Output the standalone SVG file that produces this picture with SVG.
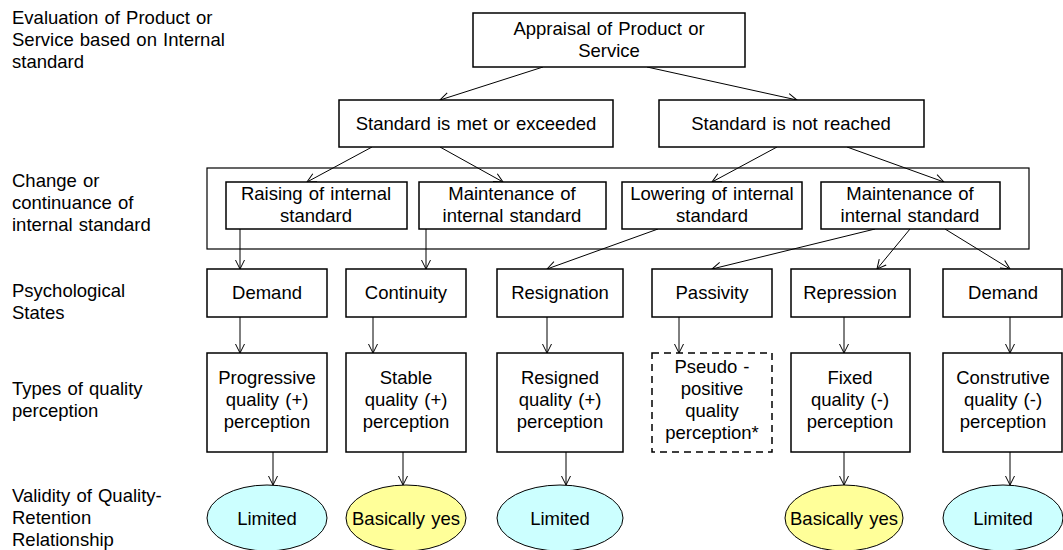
<svg xmlns="http://www.w3.org/2000/svg" width="1063" height="550" viewBox="0 0 1063 550">
  <style>
    text { font-family: "Liberation Sans", Arial, sans-serif; font-size: 18.5px; word-spacing: 1px; fill: #000; }
    .c { text-anchor: middle; }
    .box { fill: #fff; stroke: #000; stroke-width: 1.5; }
    .dash { fill: #fff; stroke: #000; stroke-width: 1.5; stroke-dasharray: 7 5; }
    .frame { fill: none; stroke: #000; stroke-width: 1.2; }
    .cyan { fill: #ccffff; stroke: #000; stroke-width: 1; }
    .yellow { fill: #ffff99; stroke: #000; stroke-width: 1; }
    .link { stroke: #000; stroke-width: 1; fill: none; marker-end: url(#arrow); }
  </style>
  <defs>
    <marker id="arrow" markerUnits="userSpaceOnUse" markerWidth="12" markerHeight="12" viewBox="0 0 12 12" refX="11" refY="6" orient="auto">
      <path d="M2,1.5 L11,6 L2,10.5" fill="none" stroke="#000" stroke-width="1"/>
    </marker>
  </defs>
  <rect width="1063" height="550" fill="#fff"/>

  <!-- row labels -->
  <g id="row-labels">
    <text x="12" y="24">Evaluation of Product or</text>
    <text x="12" y="46">Service based on Internal</text>
    <text x="12" y="68">standard</text>
    <text x="12" y="187">Change or</text>
    <text x="12" y="209">continuance of</text>
    <text x="12" y="231">internal standard</text>
    <text x="12" y="297">Psychological</text>
    <text x="12" y="319">States</text>
    <text x="12" y="395">Types of quality</text>
    <text x="12" y="417">perception</text>
    <text x="12" y="502">Validity of Quality-</text>
    <text x="12" y="524">Retention</text>
    <text x="12" y="546">Relationship</text>
  </g>

  <!-- frame around the standard-change level -->
  <rect id="standard-frame" class="frame" x="207" y="168" width="822" height="81"/>

  <!-- connectors -->
  <g id="connectors">
    <line class="link" x1="543" y1="67" x2="440" y2="100"/>
    <line class="link" x1="647" y1="67" x2="797" y2="100"/>
    <line class="link" x1="372" y1="147" x2="307" y2="182"/>
    <line class="link" x1="440" y1="147" x2="503" y2="182"/>
    <line class="link" x1="777" y1="147" x2="712" y2="182"/>
    <line class="link" x1="847" y1="147" x2="944" y2="182"/>
    <line class="link" x1="240" y1="229" x2="240" y2="269"/>
    <line class="link" x1="426" y1="229" x2="426" y2="269"/>
    <line class="link" x1="658" y1="229" x2="547" y2="269"/>
    <line class="link" x1="875" y1="229" x2="712" y2="269"/>
    <line class="link" x1="910" y1="229" x2="877" y2="269"/>
    <line class="link" x1="945" y1="229" x2="1010" y2="269"/>
    <line class="link" x1="240" y1="317" x2="240" y2="353"/>
    <line class="link" x1="373" y1="317" x2="373" y2="353"/>
    <line class="link" x1="547" y1="317" x2="547" y2="353"/>
    <line class="link" x1="679" y1="317" x2="679" y2="353"/>
    <line class="link" x1="844" y1="317" x2="844" y2="353"/>
    <line class="link" x1="1010" y1="317" x2="1010" y2="353"/>
    <line class="link" x1="273" y1="452" x2="273" y2="485"/>
    <line class="link" x1="403" y1="452" x2="403" y2="485"/>
    <line class="link" x1="566" y1="452" x2="566" y2="485"/>
    <line class="link" x1="844" y1="452" x2="844" y2="485"/>
    <line class="link" x1="1010" y1="452" x2="1010" y2="485"/>
  </g>

  <!-- level 1 -->
  <g id="appraisal">
    <rect class="box" x="473" y="13" width="272" height="54"/>
    <text class="c" x="609" y="35">Appraisal of Product or</text>
    <text class="c" x="609" y="57">Service</text>
  </g>

  <!-- level 2 -->
  <g id="standard-met">
    <rect class="box" x="339" y="100" width="274" height="47"/>
    <text class="c" x="476" y="130">Standard is met or exceeded</text>
  </g>
  <g id="standard-not-reached">
    <rect class="box" x="659" y="100" width="265" height="47"/>
    <text class="c" x="791" y="130">Standard is not reached</text>
  </g>

  <!-- level 3 -->
  <g id="raising">
    <rect class="box" x="226" y="182" width="181" height="47"/>
    <text class="c" x="316" y="200">Raising of internal</text>
    <text class="c" x="316" y="222">standard</text>
  </g>
  <g id="maintenance-left">
    <rect class="box" x="419" y="182" width="187" height="47"/>
    <text class="c" x="512" y="200">Maintenance of</text>
    <text class="c" x="512" y="222">internal standard</text>
  </g>
  <g id="lowering">
    <rect class="box" x="622" y="182" width="180" height="47"/>
    <text class="c" x="712" y="200">Lowering of internal</text>
    <text class="c" x="712" y="222">standard</text>
  </g>
  <g id="maintenance-right">
    <rect class="box" x="821" y="182" width="179" height="47"/>
    <text class="c" x="910" y="200">Maintenance of</text>
    <text class="c" x="910" y="222">internal standard</text>
  </g>

  <!-- psychological states -->
  <g id="demand-1">
    <rect class="box" x="207" y="269" width="120" height="48"/>
    <text class="c" x="267" y="299">Demand</text>
  </g>
  <g id="continuity">
    <rect class="box" x="346" y="269" width="120" height="48"/>
    <text class="c" x="406" y="299">Continuity</text>
  </g>
  <g id="resignation">
    <rect class="box" x="497" y="269" width="126" height="48"/>
    <text class="c" x="560" y="299">Resignation</text>
  </g>
  <g id="passivity">
    <rect class="box" x="652" y="269" width="120" height="48"/>
    <text class="c" x="712" y="299">Passivity</text>
  </g>
  <g id="repression">
    <rect class="box" x="791" y="269" width="119" height="48"/>
    <text class="c" x="850" y="299">Repression</text>
  </g>
  <g id="demand-2">
    <rect class="box" x="943" y="269" width="119" height="48"/>
    <text class="c" x="1003" y="299">Demand</text>
  </g>

  <!-- types of quality perception -->
  <g id="progressive">
    <rect class="box" x="207" y="353" width="120" height="99"/>
    <text class="c" x="267" y="384">Progressive</text>
    <text class="c" x="267" y="406">quality (+)</text>
    <text class="c" x="267" y="428">perception</text>
  </g>
  <g id="stable">
    <rect class="box" x="346" y="353" width="120" height="99"/>
    <text class="c" x="406" y="384">Stable</text>
    <text class="c" x="406" y="406">quality (+)</text>
    <text class="c" x="406" y="428">perception</text>
  </g>
  <g id="resigned">
    <rect class="box" x="497" y="353" width="126" height="99"/>
    <text class="c" x="560" y="384">Resigned</text>
    <text class="c" x="560" y="406">quality (+)</text>
    <text class="c" x="560" y="428">perception</text>
  </g>
  <g id="pseudo-positive">
    <rect class="dash" x="652" y="353" width="120" height="99"/>
    <text class="c" x="712" y="373">Pseudo -</text>
    <text class="c" x="712" y="395">positive</text>
    <text class="c" x="712" y="417">quality</text>
    <text class="c" x="712" y="439">perception*</text>
  </g>
  <g id="fixed">
    <rect class="box" x="791" y="353" width="119" height="99"/>
    <text class="c" x="850" y="384">Fixed</text>
    <text class="c" x="850" y="406">quality (-)</text>
    <text class="c" x="850" y="428">perception</text>
  </g>
  <g id="construtive">
    <rect class="box" x="943" y="353" width="119" height="99"/>
    <text class="c" x="1003" y="384">Construtive</text>
    <text class="c" x="1003" y="406">quality (-)</text>
    <text class="c" x="1003" y="428">perception</text>
  </g>

  <!-- validity -->
  <g id="validity-1">
    <ellipse class="cyan" cx="267" cy="518" rx="60" ry="33"/>
    <text class="c" x="267" y="525">Limited</text>
  </g>
  <g id="validity-2">
    <ellipse class="yellow" cx="406" cy="518" rx="60" ry="33"/>
    <text class="c" x="406" y="525">Basically yes</text>
  </g>
  <g id="validity-3">
    <ellipse class="cyan" cx="560" cy="518" rx="63" ry="33"/>
    <text class="c" x="560" y="525">Limited</text>
  </g>
  <g id="validity-5">
    <ellipse class="yellow" cx="844" cy="518" rx="59" ry="33"/>
    <text class="c" x="844" y="525">Basically yes</text>
  </g>
  <g id="validity-6">
    <ellipse class="cyan" cx="1003" cy="518" rx="60" ry="33"/>
    <text class="c" x="1003" y="525">Limited</text>
  </g>
</svg>
